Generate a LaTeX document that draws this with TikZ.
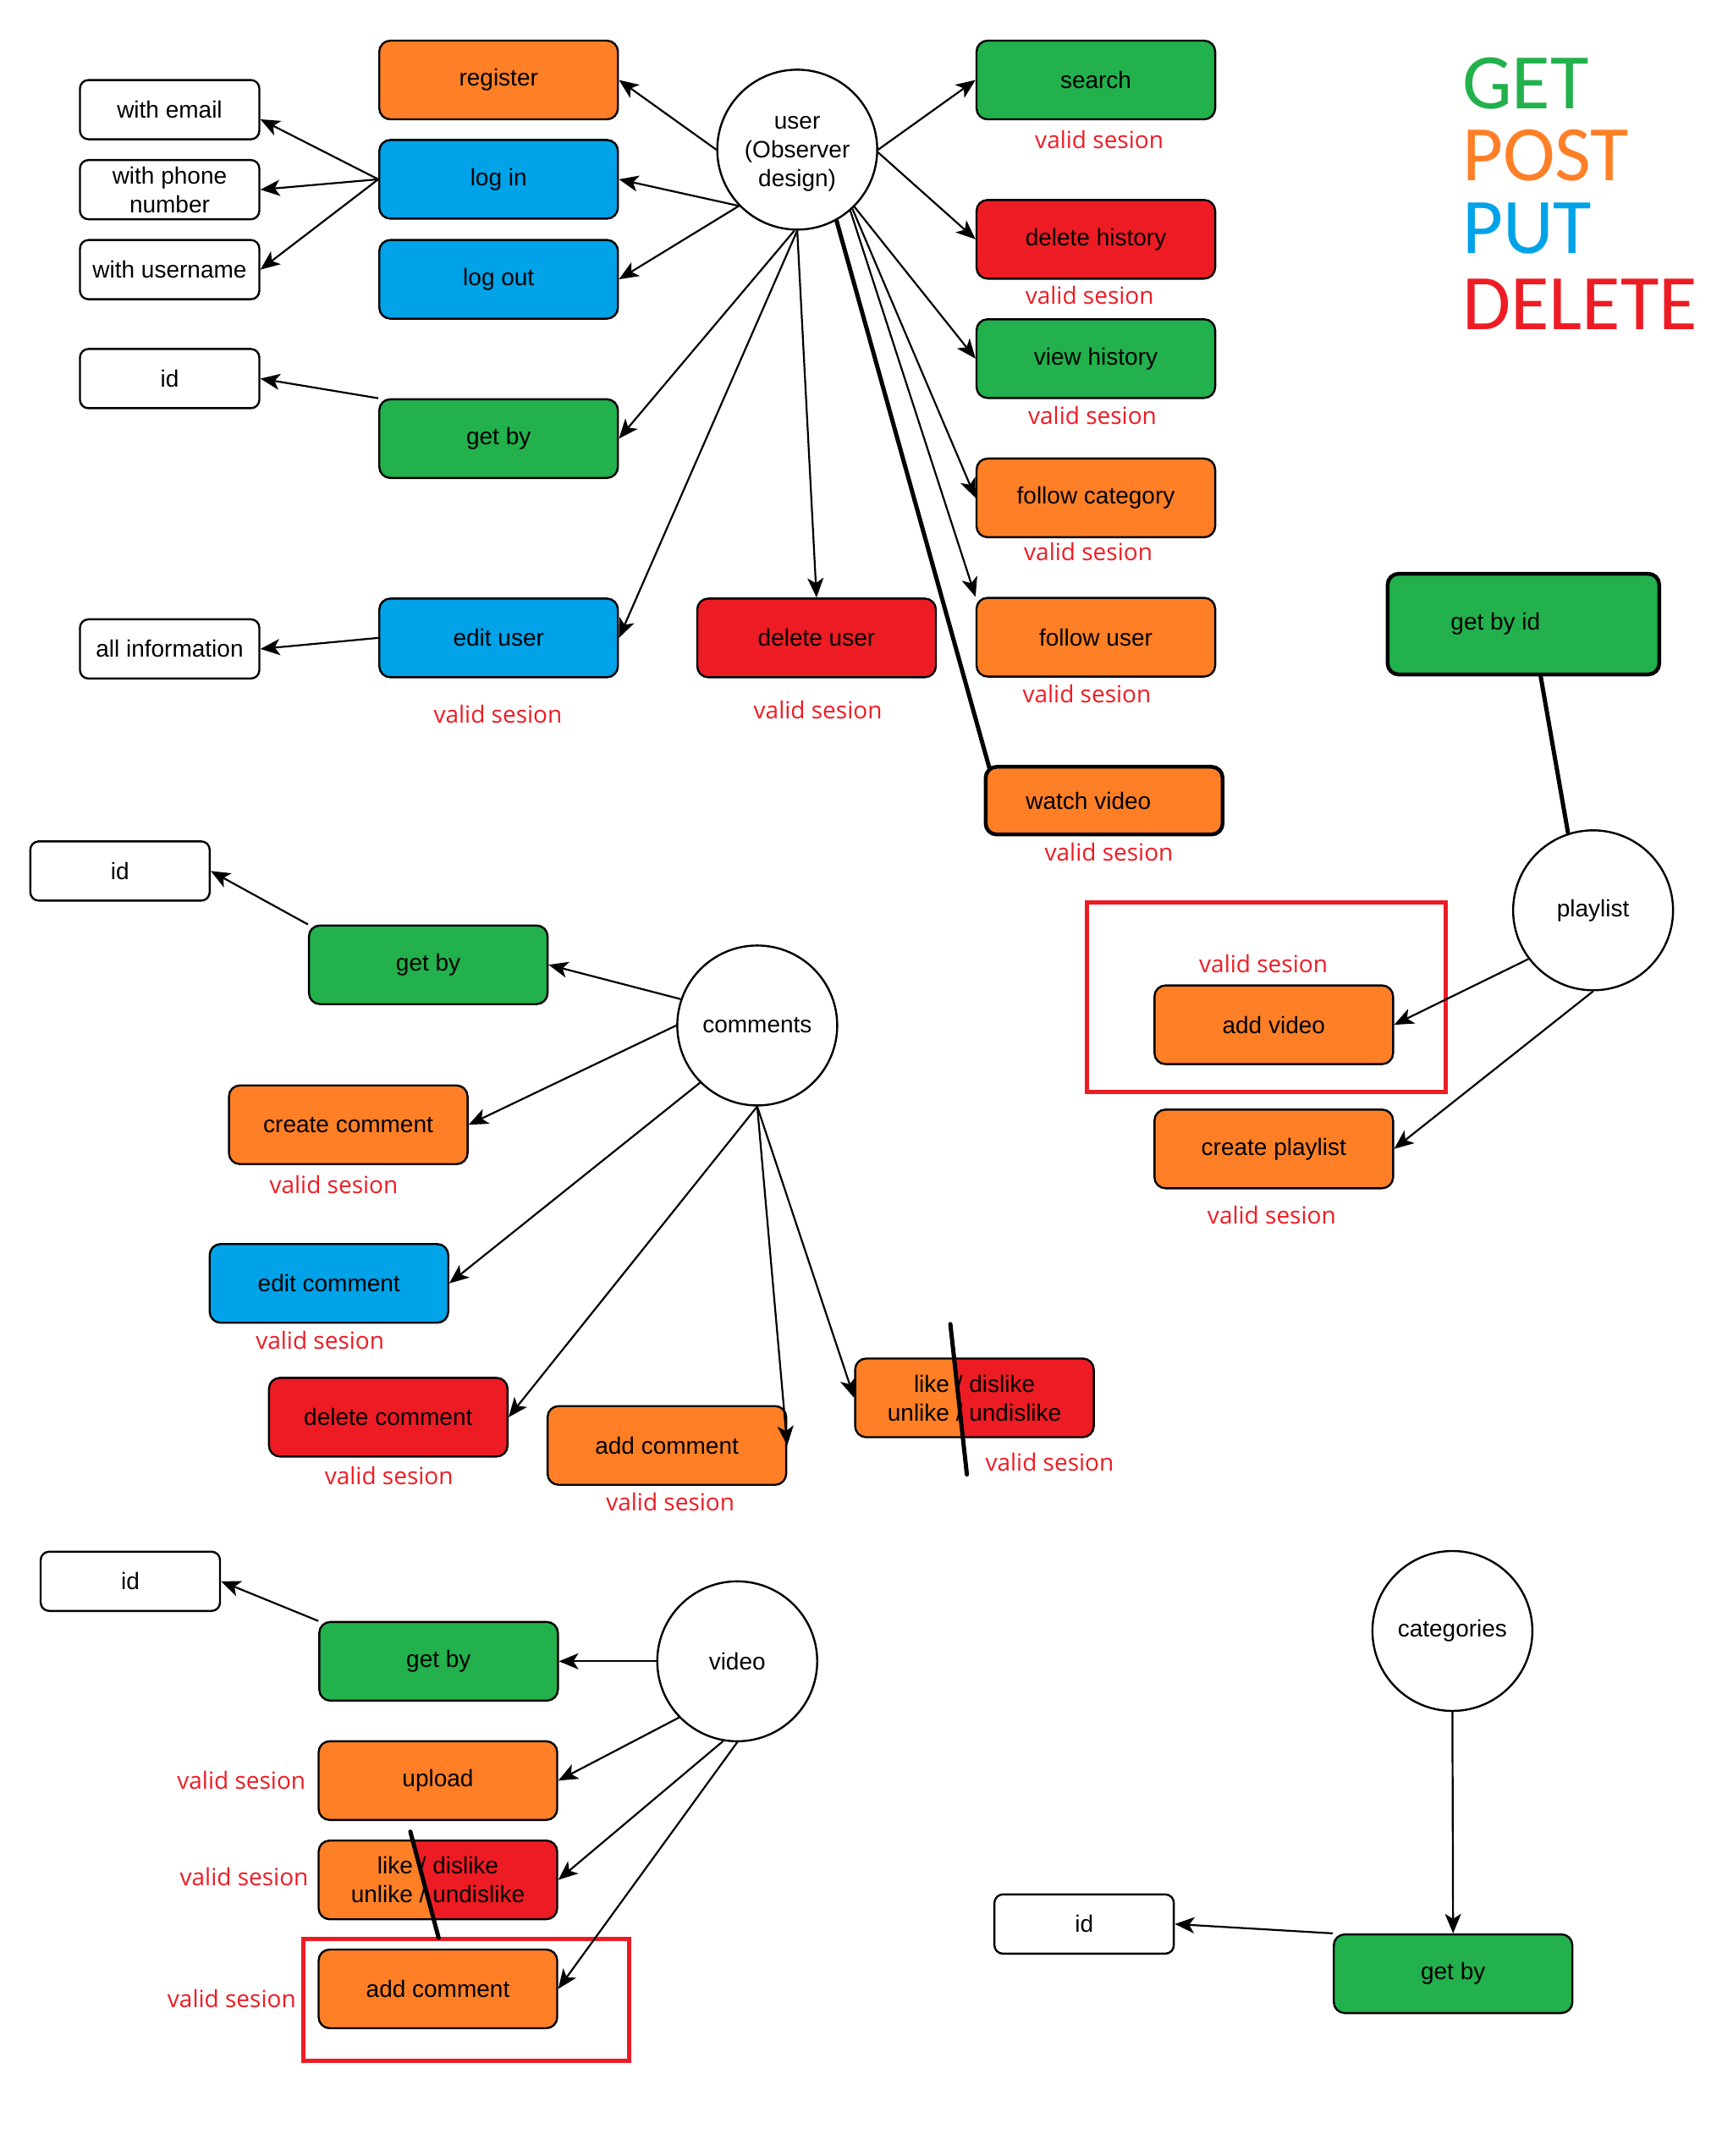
\documentclass[tikz,border=0pt]{standalone}
\usepackage{fontspec}
\setmainfont{Liberation Sans}
\newfontfamily\osans{Open Sans}
\newfontfamily\carl{Carlito}
\usetikzlibrary{arrows.meta,calc}
\definecolor{cOr}{HTML}{FF7F27}
\definecolor{cGr}{HTML}{22B14C}
\definecolor{cBl}{HTML}{00A2E8}
\definecolor{cRd}{HTML}{ED1C24}
\begin{document}
\begin{tikzpicture}[x=1.63pt,y=-1.63pt,
  every node/.style={font=\fontsize{28}{34}\selectfont, inner sep=0pt, align=center},
  bbox/.style={draw=black, line width=2.4pt, rounded corners=13pt, minimum width=282pt, minimum height=93pt},
  sbox/.style={draw=black, line width=2.4pt, rounded corners=10pt, minimum width=212pt, minimum height=70pt, fill=white},
  circ/.style={draw=black, line width=2.4pt, circle, minimum size=189pt, fill=white},
  vs/.style={text=cRd, font=\osans\fontsize{28}{33}\selectfont},
  conn/.style={line width=2.2pt, -{Stealth[length=23pt,width=19pt,inset=6pt]}},
  heavy/.style={line width=5pt, line cap=round},
  legend/.style={anchor=base west, font=\carl\fontsize{93}{93}\selectfont},
  redframe/.style={draw=cRd, line width=5pt}
]
\fill[white] (0,0) rectangle (1256.44,1563.19);
\useasboundingbox (0,0) rectangle (1256.44,1563.19);

% ---------- legend ----------
\node[legend, text=cGr] (lget) at (1060,79) {GET};
\node[legend, text=cOr] (lpost) at (1060,131) {POST};
\node[legend, text=cBl] (lput) at (1060,184) {PUT};
\node[legend, text=cRd] (ldel) at (1060,239) {DELETE};

% ---------- user section ----------
\node[circ] (user) at (578,108.5) {\rule{0pt}{26pt}user\\(Observer\\design)};
\node[sbox] (email) at (123,79.5) {with email};
\node[sbox] (phone) at (123,137.5) {with phone\\number};
\node[sbox] (uname) at (123,195.5) {with username};
\node[sbox] (id1) at (123,274.5) {id};
\node[sbox] (allinfo) at (123,470.5) {all information};

\node[bbox, fill=cOr] (reg) at (361.5,58) {register};
\node[bbox, fill=cBl] (login) at (361.5,130) {log in};
\node[bbox, fill=cBl] (logout) at (361.5,202.5) {log out};
\node[bbox, fill=cGr] (getby1) at (361.5,318) {get by};
\node[bbox, fill=cBl] (edituser) at (361.5,462.5) {edit user};
\node[vs] (vsedit) at (361,518) {valid sesion};
\node[bbox, fill=cRd] (deluser) at (592,462.5) {delete user};
\node[vs] (vsdel) at (593,515) {valid sesion};

\node[bbox, fill=cGr] (search) at (794.5,58) {search};
\node[vs] (vssearch) at (797,101.5) {valid sesion};
\node[bbox, fill=cRd] (delhist) at (794.5,173.5) {delete history};
\node[vs] (vsdelhist) at (790,214) {valid sesion};
\node[bbox, fill=cGr] (viewhist) at (794.5,260) {view history};
\node[vs] (vsview) at (792,301) {valid sesion};
\node[bbox, fill=cOr] (followcat) at (794.5,361) {follow category};
\node[vs] (vsfcat) at (789,400) {valid sesion};
\node[bbox, fill=cOr] (followuser) at (794.5,462) {follow user};
\node[vs] (vsfuser) at (788,503) {valid sesion};
\node[bbox, fill=cOr, line width=4.5pt, minimum height=80pt, minimum width=280pt] (watch) at (800.5,580.5) {watch video\hspace*{37pt}};
\node[vs] (vswatch) at (804,618) {valid sesion};

\draw[conn] (user.180) -- (reg.east);
\draw[conn] (user.-136) -- (login.east);
\draw[conn] (user.-136) -- (logout.east);
\draw[conn] (login.west) -- ($(email.east)+(0,7)$);
\draw[conn] (login.west) -- (phone.east);
\draw[conn] (login.west) -- (uname.east);
\draw[conn] (getby1.north west) -- (id1.east);
\draw[conn] (user.-92) -- (getby1.east);
\draw[conn] (user.-90) -- (edituser.east);
\draw[conn] (edituser.west) -- (allinfo.east);
\draw[conn] (user.-90) -- (deluser.north);
\draw[conn] (user.0) -- (search.west);
\draw[conn] (user.-2) -- (delhist.west);
\draw[conn] (user.-45) -- (viewhist.west);
\draw[conn] (user.-47) -- (followcat.west);
\draw[conn] (user.-49) -- (followuser.north west);
\draw[heavy] (user.-61) -- ($(watch.north west)+(4,2)$);

% ---------- playlist section ----------
\node[bbox, fill=cGr, line width=4.5pt, minimum width=321pt, minimum height=119pt] (gbid) at (1104.5,452.5) {get by id\hspace*{66pt}};
\node[circ] (pl) at (1155,660) {playlist};
\draw[redframe] (788,654) rectangle (1048,792);
\node[vs] (vsaddv) at (916,699) {valid sesion};
\node[bbox, fill=cOr] (addvideo) at (923.5,743) {add video};
\node[bbox, fill=cOr] (createpl) at (923.5,833) {create playlist};
\node[vs] (vscreatepl) at (922,881) {valid sesion};
\draw[heavy] ($(gbid.south)+(12.5,0)$) -- (pl.108);
\draw[conn] (pl.-143) -- (addvideo.east);
\draw[conn] (pl.-90) -- (createpl.east);

% ---------- comments section ----------
\node[sbox] (id2) at (87,631.5) {id};
\node[bbox, fill=cGr] (getby2) at (310.5,699.5) {get by};
\node[circ] (cm) at (549,743.5) {comments};
\node[bbox, fill=cOr] (createc) at (252.5,815.5) {create comment};
\node[vs] (vscreatec) at (242,859) {valid sesion};
\node[bbox, fill=cBl] (editc) at (238.5,930.5) {edit comment};
\node[vs] (vseditc) at (232,972) {valid sesion};
\node[bbox, fill=cRd] (deletec) at (281.5,1027.5) {delete comment};
\node[vs] (vsdeletec) at (282,1070) {valid sesion};
\node[bbox, fill=cOr] (addc) at (483.5,1048) {add comment};
\node[vs] (vsaddc) at (486,1089) {valid sesion};
\node[bbox, fill=cRd, path picture={\fill[cOr, sharp corners] (path picture bounding box.north west) -- ([xshift=-24pt]path picture bounding box.north) -- ([xshift=-13.9pt]path picture bounding box.south) -- (path picture bounding box.south west) -- cycle;}] (likec) at (706.5,1013.5) {like / dislike\\unlike / undislike};
\node[vs] (vslikec) at (761,1060) {valid sesion};
\draw[heavy] (689,960) -- (701,1069);

\draw[conn] (cm.161) -- (getby2.east);
\draw[conn] (getby2.north west) -- (id2.east);
\draw[conn] (cm.180) -- (createc.east);
\draw[conn] (cm.-135) -- (editc.east);
\draw[conn] (cm.-90) -- (deletec.east);
\draw[conn] (cm.-90) -- (addc.east);
\draw[conn] (cm.-90) -- (likec.west);

% ---------- video section ----------
\node[sbox] (id3) at (94.5,1146.5) {id};
\node[bbox, fill=cGr] (getby3) at (318,1204.5) {get by};
\node[circ] (vid) at (534.5,1204.5) {video};
\node[bbox, fill=cOr] (upload) at (317.5,1291) {upload};
\node[vs] (vsupload) at (175,1291) {valid sesion};
\node[bbox, fill=cRd, path picture={\fill[cOr, sharp corners] (path picture bounding box.north west) -- ([xshift=-30pt]path picture bounding box.north) -- ([xshift=-4.9pt]path picture bounding box.south) -- (path picture bounding box.south west) -- cycle;}] (likev) at (317.5,1363) {like / dislike\\unlike / undislike};
\node[vs] (vslikev) at (177,1361) {valid sesion};
\node[bbox, fill=cOr] (addcv) at (317.5,1442) {add comment};
\node[vs] (vsaddcv) at (168,1449) {valid sesion};
\draw[redframe] (220,1406) rectangle (456,1494);
\draw[heavy] (297.5,1328) -- (318,1405);

\draw[conn] (vid.180) -- (getby3.east);
\draw[conn] (getby3.north west) -- (id3.east);
\draw[conn] (vid.-136) -- (upload.east);
\draw[conn] (vid.-100) -- (likev.east);
\draw[conn] (vid.-90) -- (addcv.east);

% ---------- categories section ----------
\node[circ] (cat) at (1053,1182.5) {categories};
\node[bbox, fill=cGr] (getby4) at (1053.5,1431) {get by};
\node[sbox] (id4) at (786,1395) {id};
\draw[conn] (cat.south) -- (getby4.north);
\draw[conn] (getby4.north west) -- (id4.east);
\end{tikzpicture}
\end{document}
